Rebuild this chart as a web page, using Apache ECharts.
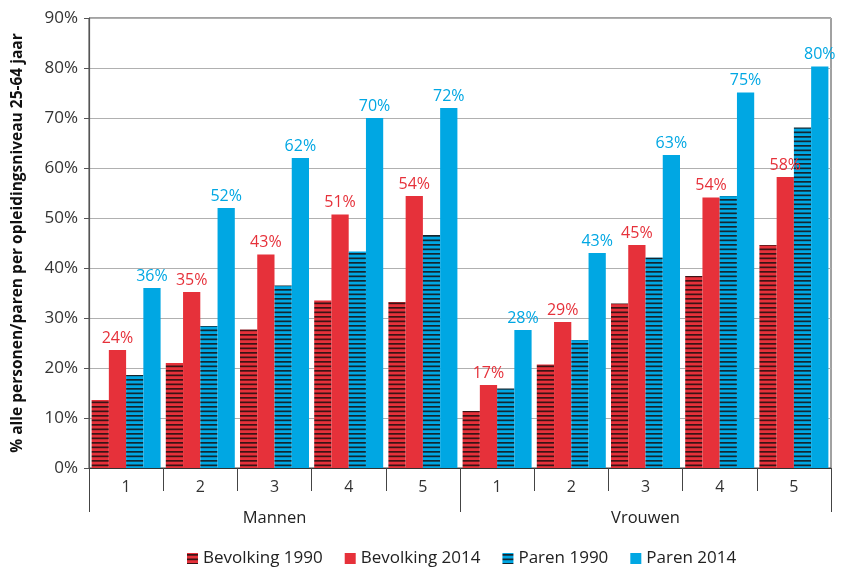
<!DOCTYPE html>
<html>
<head>
<meta charset="utf-8">
<script src="https://cdn.jsdelivr.net/npm/echarts@6/dist/echarts.min.js"></script>
<style>
html,body{margin:0;padding:0;background:#fff;}
#c{width:841px;height:567px;}
</style>
</head>
<body>
<div id="c"></div>
<script>
const levels = ['1','2','3','4','5','1','2','3','4','5'];
const groups = ['Mannen','Vrouwen'];
const yTicks = ['0%','10%','20%','30%','40%','50%','60%','70%','80%','90%'];
const seriesNames = ['Bevolking 1990','Bevolking 2014','Paren 1990','Paren 2014'];
const bevolking1990 = [13.6, 21.0, 27.7, 33.5, 33.2, 11.4, 20.7, 32.9, 38.4, 44.6];
const bevolking2014 = [23.6, 35.2, 42.7, 50.7, 54.4, 16.6, 29.2, 44.6, 54.1, 58.2];
const paren1990     = [18.6, 28.4, 36.5, 43.3, 46.6, 15.9, 25.6, 42.1, 54.4, 68.1];
const paren2014     = [36.0, 52.0, 62.0, 70.0, 72.0, 27.6, 43.0, 62.6, 75.1, 80.3];

const RED = '#e6313a';
const BLUE = '#00a7e3';

function hatch(base, stripe) {
  const cv = document.createElement('canvas');
  cv.width = 8; cv.height = 9;
  const g = cv.getContext('2d');
  g.fillStyle = base; g.fillRect(0, 0, 8, 9);
  g.fillStyle = stripe;
  g.fillRect(0, 1, 8, 1.7);
  g.fillRect(0, 5.5, 8, 1.7);
  return { image: cv, repeat: 'repeat' };
}

const chart = echarts.init(document.getElementById('c'), null, {renderer: 'canvas'});
const FONT = 'Open Sans';

function labelCfg(color) {
  return {
    show: true, position: 'top', distance: 4, color: color,
    fontFamily: FONT, fontSize: 16,
    formatter: p => Math.round(p.value) + '%'
  };
}

chart.setOption({
  animation: false,
  grid: { left: 89, right: 10, top: 18, bottom: 99, show: true, borderColor: '#444', borderWidth: 1 },
  legend: {
    bottom: -5, left: 182, itemWidth: 11, itemHeight: 11, itemGap: 22,
    icon: 'rect',
    textStyle: { fontFamily: FONT, fontSize: 17, color: '#222' },
    data: seriesNames
  },
  xAxis: [
    {
      type: 'category', data: levels, position: 'bottom',
      axisLine: { lineStyle: { color: '#333', width: 1.2 } },
      axisTick: { show: true, length: 23, lineStyle: { color: '#444' } },
      axisLabel: { margin: 11, fontFamily: FONT, fontSize: 16, color: '#333' }
    },
    {
      type: 'category', data: groups, position: 'bottom',
      axisLine: { show: false },
      axisTick: { show: true, length: 44, lineStyle: { color: '#444' } },
      axisLabel: { margin: 42, fontFamily: FONT, fontSize: 16.5, color: '#222' }
    }
  ],
  yAxis: {
    type: 'value', min: 0, max: 90, interval: 10,
    name: '% alle personen/paren per opleidingsniveau 25-64 jaar',
    nameLocation: 'middle', nameGap: 63, nameRotate: 90,
    nameTextStyle: { fontFamily: FONT, fontSize: 15.5, fontWeight: 'bold', color: '#111' },
    axisLine: { show: true, lineStyle: { color: '#555', width: 1.2 } },
    axisTick: { show: true, length: 5, lineStyle: { color: '#555' } },
    axisLabel: { margin: 11, fontFamily: FONT, fontSize: 17, color: '#333',
      formatter: v => yTicks[Math.round(v / 10)] },
    splitLine: { show: true, lineStyle: { color: '#b0b0b0', width: 1.2 } }
  },
  series: [
    { name: seriesNames[0], type: 'bar', data: bevolking1990, barGap: '0%', barCategoryGap: '7%',
      itemStyle: { color: hatch(RED, '#3a1416') } },
    { name: seriesNames[1], type: 'bar', data: bevolking2014,
      itemStyle: { color: RED }, label: labelCfg(RED) },
    { name: seriesNames[2], type: 'bar', data: paren1990,
      itemStyle: { color: hatch(BLUE, '#142630') } },
    { name: seriesNames[3], type: 'bar', data: paren2014,
      itemStyle: { color: BLUE }, label: labelCfg(BLUE) }
  ]
});
</script>
</body>
</html>
